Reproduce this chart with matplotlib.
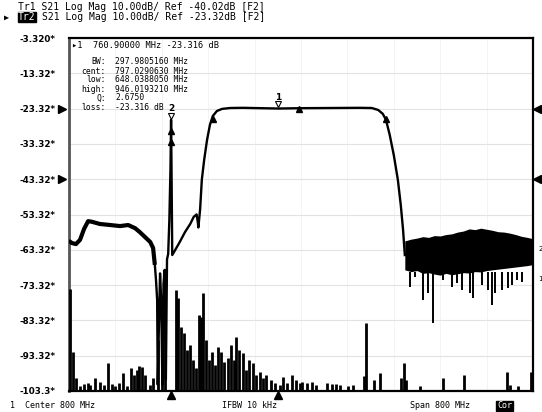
import matplotlib.pyplot as plt
from matplotlib.transforms import blended_transform_factory

# Tr2 S21: filter response (MHz, dB)
filter_f = [400, 405, 412, 419, 426, 433, 440, 453, 471, 488, 502, 514, 522, 531, 540,
            545, 548, 550, 552, 553, 555, 557, 559, 561, 563, 565, 567, 569, 571, 573,
            575, 576, 577, 578, 583, 591, 600, 609, 615, 620, 622, 623, 626, 629, 633,
            638, 643, 648, 655, 664, 678, 700, 760.9, 800, 850, 900, 922, 933, 941,
            946.5, 953, 960, 967, 972, 976, 979]
filter_db = [-60.8, -61.4, -61.7, -60.5, -57.4, -55.2, -55.4, -56.0, -56.3, -56.6, -56.3,
             -57.2, -58.3, -59.7, -61.1, -62.8, -67.6, -71.9, -77.5, -101.5, -85.0, -70.0,
             -78.0, -101.5, -73.0, -69.0, -100.0, -66.0, -64.5, -55.0, -40.0, -26.5, -45.0,
             -64.8, -63.4, -61.1, -58.3, -56.0, -54.0, -53.3, -55.4, -57.0, -52.0, -43.5,
             -37.9, -32.2, -27.9, -25.4, -24.0, -23.4, -23.15, -23.1, -23.3, -23.2, -23.15,
             -23.1, -23.15, -23.7, -24.8, -26.5, -30.8, -36.5, -43.5, -50.6, -57.7, -64.8]

# stopband noise above 980 MHz: envelope of the dense band
band_f = [979, 990, 1000, 1010, 1020, 1030, 1040, 1050, 1060, 1070, 1080, 1090, 1100,
          1110, 1120, 1130, 1140, 1150, 1160, 1170, 1180, 1190, 1200]
band_top = [-60.8, -60.3, -60.0, -59.6, -59.8, -59.3, -59.4, -59.0, -58.8, -58.3, -58.0,
            -57.4, -57.6, -57.2, -57.5, -57.8, -58.2, -58.3, -58.6, -59.0, -59.5, -59.8, -60.2]
band_bottom = [-69.0, -69.5, -69.2, -70.0, -69.8, -70.2, -70.5, -70.0, -70.4, -70.1, -69.8,
               -69.9, -69.5, -69.6, -69.2, -69.0, -68.8, -68.6, -68.4, -68.2, -68.0, -67.8, -67.5]
dip_f = [988, 996, 1010, 1019, 1028, 1045, 1060, 1069, 1078, 1091, 1097, 1112, 1122,
         1129, 1134, 1147, 1157, 1164, 1172, 1181, 1190]
dip_db = [-73.9, -71.0, -77.5, -75.6, -84.1, -71.9, -73.9, -72.7, -74.7, -75.6, -77.0,
          -73.3, -74.7, -79.0, -75.6, -74.7, -74.1, -73.3, -71.9, -72.5, -69.6]

# Tr1 S21: noise floor spikes
floor_f = [402, 407, 412, 419, 426, 433, 436, 445, 453, 460, 467, 474, 479, 486, 493, 500,
           507, 512, 517, 521, 526, 531, 540, 545, 553, 560, 566, 584.5, 588, 593, 598, 603,
           609, 614, 619, 624, 628, 631, 636, 641, 647, 652, 657, 662, 667, 674, 679, 684,
           688, 693, 700, 705, 710, 717, 722, 729, 734, 740, 748, 755, 764, 769, 776, 784,
           791, 798, 802, 810, 819, 826, 845, 853, 860, 867, 881, 890, 909, 912, 926, 936,
           972, 978, 981, 1005, 1045, 1081, 1155, 1160, 1174, 1197, 1200]
floor_db = [-74.5, -92.3, -99.6, -101.9, -101.3, -101.1, -101.6, -99.6, -100.8, -101.6,
            -95.4, -101.3, -101.9, -101.1, -98.2, -101.9, -96.8, -98.8, -97.4, -96.2, -96.5,
            -98.8, -101.6, -99.6, -88.9, -77.5, -86.0, -74.7, -77.0, -85.2, -86.9, -91.7,
            -90.3, -94.5, -96.8, -81.8, -82.4, -75.6, -88.9, -94.5, -92.3, -96.0, -90.9,
            -92.3, -95.1, -94.0, -90.3, -94.5, -88.0, -91.7, -92.5, -97.4, -94.5, -95.4,
            -98.8, -98.0, -99.6, -98.8, -100.2, -101.1, -101.6, -99.4, -101.1, -98.8,
            -100.2, -101.1, -100.8, -101.1, -100.8, -101.6, -101.1, -101.3, -101.3, -101.6,
            -101.9, -101.6, -99.1, -84.1, -100.2, -98.2, -99.6, -95.4, -100.2, -101.9,
            -99.6, -98.8, -98.0, -101.6, -101.9, -98.0, -96.8]

y_ticks = [-3.32, -13.32, -23.32, -33.32, -43.32, -53.32, -63.32, -73.32, -83.32, -93.32, -103.32]
y_labels = ['-3.320*', '-13.32*', '-23.32*', '-33.32*', '-43.32*', '-53.32*',
            '-63.32*', '-73.32*', '-83.32*', '-93.32*', '-103.3*']
x_grid = [480, 560, 640, 720, 800, 880, 960, 1040, 1120]

m1_f, m1_db = 760.9, -23.316
m2_f, m2_db = 576, -26.5
bw_f = [648.04, 797.03, 946.02]
bw_db = [-26.3, -23.3, -26.3]

W, H = 542, 412
fig = plt.figure(figsize=(W / 100, H / 100), dpi=100)
ax = fig.add_axes([69 / W, 21 / H, 464 / W, 353 / H])
ax.set_xlim(400, 1200)
ax.set_ylim(-103.32, -3.32)

ax.set_yticks(y_ticks)
ax.set_yticklabels(y_labels, fontsize=6.3, fontweight='bold')
ax.tick_params(axis='y', length=0, pad=10)
ax.set_xticks(x_grid)
ax.tick_params(axis='x', length=0, labelbottom=False)
ax.grid(axis='y', color='#e2e2e2', lw=0.8, zorder=0)
ax.grid(axis='x', color='#f3f3f3', lw=0.6, zorder=0)
for s in ax.spines.values():
    s.set_linewidth(1.6)
    s.set_color('black')
ax.spines['left'].set_color('#555555')
ax.spines['left'].set_linewidth(2)

# traces
ax.vlines(floor_f, -103.32, floor_db, color='black', lw=2.0, zorder=3)
ax.plot(filter_f, filter_db, color='black', lw=1.7, zorder=3)
# the low stopband is noisy, so it shows as a thicker band
ax.plot(filter_f[:17], filter_db[:17], color='black', lw=3.0, solid_capstyle='butt', zorder=3)
ax.fill_between(band_f, band_bottom, band_top, color='black', lw=0, zorder=3)
ax.vlines(dip_f, -69.5, dip_db, color='black', lw=1.4, zorder=3)

# markers
ax.text(m1_f, -20.2, '1', fontsize=6.5, ha='center', va='center', fontweight='bold')
ax.plot([m1_f], [-22.0], marker='v', ms=4, mfc='white', mec='black', mew=0.8, zorder=4)
ax.plot(bw_f, bw_db, ls='none', marker='^', ms=4, color='black', zorder=4)
ax.text(m2_f, -23.2, '2', fontsize=6.5, ha='center', va='center', fontweight='bold')
ax.plot([m2_f], [-25.3], marker='v', ms=4, mfc='white', mec='black', mew=0.8, zorder=4)
ax.plot([m2_f, m2_f], [-29.8, -32.7], ls='none', marker='^', ms=4, color='black', zorder=4)

tb = blended_transform_factory(ax.transData, ax.transAxes)
ax.plot([m2_f, m1_f], [-0.012, -0.012], ls='none', marker='^', ms=6,
        color='black', transform=tb, clip_on=False)
ta = blended_transform_factory(ax.transAxes, ax.transData)
ax.plot([-0.016, -0.016], [-23.32, -43.32], ls='none', marker='>', ms=6,
        color='black', transform=ta, clip_on=False)
ax.plot([1.008, 1.008], [-23.32, -43.32], ls='none', marker='<', ms=6,
        color='black', transform=ta, clip_on=False)
ax.text(1.012, -63.0, '2', fontsize=5, transform=ta, va='center')
ax.text(1.012, -71.5, '1', fontsize=5, transform=ta, va='center')

# marker readout
mono = 'DejaVu Sans Mono'
def ftxt(x, y, s, **kw):
    fig.text(x / W, 1 - y / H, s, va='center', family=mono, **kw)

ftxt(72, 45, '\u25b81  760.90000 MHz -23.316 dB', fontsize=6.2)
rows = [('BW:', '297.9805160 MHz'), ('cent:', '797.0290630 MHz'),
        ('low:', '648.0388050 MHz'), ('high:', '946.0193210 MHz'),
        ('Q:', '2.6750'), ('loss:', '-23.316 dB')]
for i, (k, v) in enumerate(rows):
    ftxt(106, 62 + 9 * i, k, fontsize=5.8, ha='right')
    ftxt(115, 62 + 9 * i, v, fontsize=5.8)

# header
ftxt(18, 7, 'Tr1 S21 Log Mag 10.00dB/ Ref -40.02dB [F2]', fontsize=7.0)
ftxt(4, 17, '\u25b6', fontsize=6.0)
ftxt(18, 17, 'Tr2', fontsize=7.0, color='white',
     bbox=dict(boxstyle='square,pad=0.05', fc='black', ec='black'))
ftxt(41.5, 17, 'S21 Log Mag 10.00dB/ Ref -23.32dB [F2]', fontsize=7.0)

# footer
ftxt(10, 406, '1  Center 800 MHz', fontsize=6.0)
ftxt(222, 406, 'IFBW 10 kHz', fontsize=6.0)
ftxt(410, 406, 'Span 800 MHz', fontsize=6.0)
ftxt(497, 406, 'Cor', fontsize=6.0, color='white',
     bbox=dict(boxstyle='square,pad=0.1', fc='black', ec='black'))

fig.savefig('out.png', dpi=100)
